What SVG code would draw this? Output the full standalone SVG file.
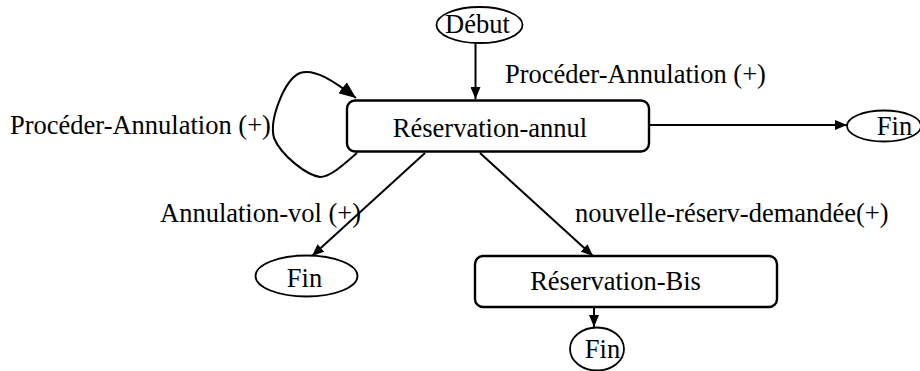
<svg xmlns="http://www.w3.org/2000/svg" width="920" height="371" viewBox="0 0 920 371">
<style>
text{font-family:"Liberation Serif","Times New Roman",serif;font-size:26.5px;fill:#000}
.box{fill:#fff;stroke:#000;stroke-width:2.4}
.ell{fill:#fff;stroke:#000;stroke-width:1.8}
.c{fill:none;stroke:#000;stroke-width:2}
</style>
<defs>
<marker id="ah" viewBox="0 0 12 10" refX="12" refY="5" markerWidth="6" markerHeight="5" markerUnits="strokeWidth" orient="auto">
<path d="M0,0 L12,5 L0,10 z" fill="#000"/>
</marker>
<marker id="ahL" viewBox="0 0 12 10" refX="12" refY="5" markerWidth="8.5" markerHeight="7" markerUnits="strokeWidth" orient="auto">
<path d="M0,0 L12,5 L0,10 z" fill="#000"/>
</marker>
</defs>
<rect width="920" height="371" fill="#fff"/>
<g id="connectors">
<line class="c" x1="475.5" y1="43" x2="475.5" y2="99" marker-end="url(#ah)"/>
<line class="c" x1="649" y1="125" x2="847" y2="125" marker-end="url(#ah)"/>
<path class="c" d="M357,153 C345,163 331,177 320,177 C306,175 281,155 274,138 C269,120 284,80 300,73 C315,68 335,82 356,98" marker-end="url(#ahL)"/>
<line class="c" x1="425" y1="153" x2="312" y2="256" marker-end="url(#ah)"/>
<line class="c" x1="480" y1="153" x2="593" y2="256" marker-end="url(#ah)"/>
<line class="c" x1="594" y1="307" x2="594" y2="327" marker-end="url(#ah)"/>
</g>
<text x="505" y="83">Procéder-Annulation (+)</text>
<text x="10" y="134">Procéder-Annulation (+)</text>
<text x="160" y="222">Annulation-vol (+)</text>
<text x="575" y="222">nouvelle-réserv-demandée(+)</text>
<g id="debut"><ellipse class="ell" cx="479.5" cy="25" rx="43" ry="18"/><text x="477.5" y="33" text-anchor="middle">Début</text></g>
<g id="resa-annul"><rect class="box" x="347" y="100.5" width="302" height="51" rx="8"/><text x="490" y="137" text-anchor="middle">Réservation-annul</text></g>
<g id="fin1"><ellipse class="ell" cx="884" cy="126" rx="37" ry="15.5"/><text x="894.5" y="135" text-anchor="middle">Fin</text></g>
<g id="fin2"><ellipse class="ell" cx="306.5" cy="276" rx="51" ry="20.5"/><text x="304.5" y="287" text-anchor="middle">Fin</text></g>
<g id="resa-bis"><rect class="box" x="475" y="256" width="302" height="51" rx="8"/><text x="615.5" y="290" text-anchor="middle">Réservation-Bis</text></g>
<g id="fin3"><ellipse class="ell" cx="597" cy="349" rx="27" ry="21.5"/><text x="602.5" y="358" text-anchor="middle">Fin</text></g>
</svg>
